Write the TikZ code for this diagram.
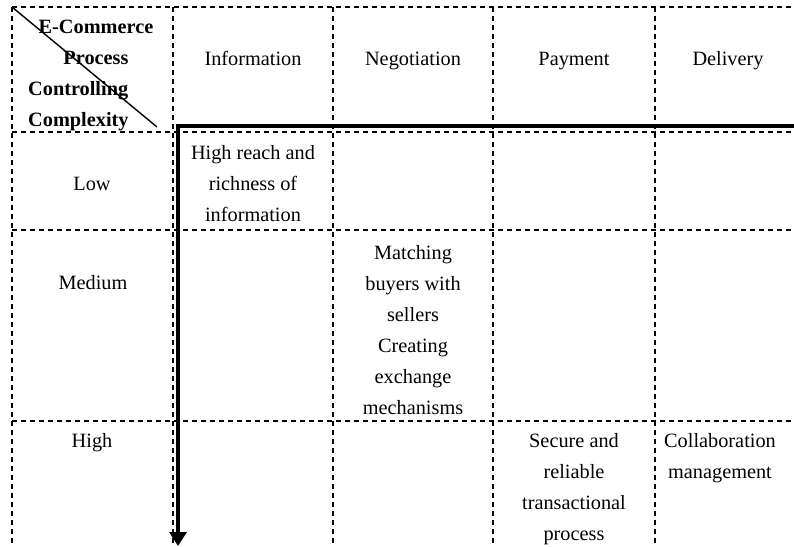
\documentclass[tikz,border=0pt]{standalone}
\usepackage{fontspec}
\setmainfont{Liberation Serif}
\usepackage{tikz}
\usetikzlibrary{arrows.meta}
\tikzstyle{grid} = [line width=1.2pt,dash pattern=on 5pt off 4pt]
\tikzstyle{axis} = [line width=3.5pt,{Triangle[width=17pt,length=14pt]}-{Triangle[width=17pt,length=14pt]}]
\tikzstyle{cell} = [inner sep=0pt,align=center,font=\fontsize{20.3}{31}\selectfont]
\tikzstyle{head} = [cell,font=\fontsize{20.3}{31}\selectfont\bfseries]

\begin{document}
\begin{tikzpicture}[x=1pt,y=-1pt]
    \useasboundingbox (0,0) rectangle (794,546);

    % grid
    \foreach \x in {12,173,333,493,655}
        \draw[grid] (\x,7) to (\x,546);
    \foreach \y in {7,132,230,421}
        \draw[grid] (12,\y) to (794,\y);
    \draw[line width=1.4pt] (12,7) to (157,127);

    % corner header
    \node[head,anchor=north] (hdproc) at (96,19.5) {E-Commerce\\Process};
    \node[head,anchor=north west,align=left] (hdctrl) at (28,81) {Controlling\\Complexity};

    % process steps
    \node[cell,anchor=base] (hdinfo) at (253,65) {Information};
    \node[cell,anchor=base] (hdnego) at (413,65) {Negotiation};
    \node[cell,anchor=base] (hdpay)  at (574,65) {Payment};
    \node[cell,anchor=base] (hddeli) at (728,65) {Delivery};

    % levels
    \node[cell,anchor=base] (lvlow)  at (92,190) {Low};
    \node[cell,anchor=base] (lvmed)  at (93,289) {Medium};
    \node[cell,anchor=base] (lvhigh) at (92,447) {High};

    % cells
    \node[cell,anchor=north] (txinfo) at (253,145) {High reach and\\richness of\\information};
    \node[cell,anchor=north] (txnego) at (413,245) {Matching\\buyers with\\sellers\\Creating\\exchange\\mechanisms};
    \node[cell,anchor=north] (txpay)  at (574,433) {Secure and\\reliable\\transactional\\process};
    \node[cell,anchor=north] (txdeli) at (720,433) {Collaboration\\management};

    % axes
    \coordinate (corner) at (178,126);
    \coordinate (xend) at (808,126);
    \coordinate (yend) at (178,546);
    \draw[axis] (yend) -- (corner) -- (xend);

\end{tikzpicture}
\end{document}
